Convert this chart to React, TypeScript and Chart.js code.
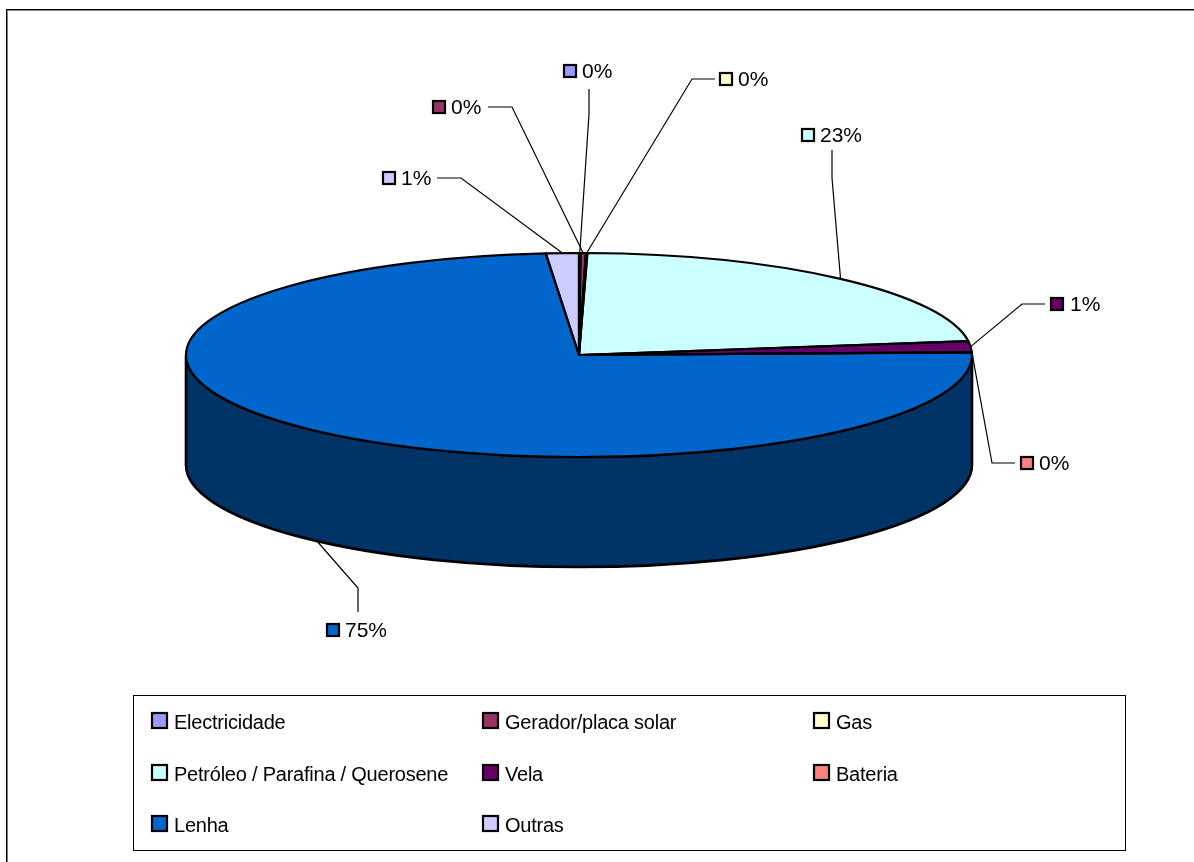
import React, { useEffect, useRef } from "react";
import { Chart, registerables } from "chart.js";

Chart.register(...registerables);

const categories = ["Electricidade", "Gerador/placa solar", "Gas", "Petróleo / Parafina / Querosene", "Vela", "Bateria", "Lenha", "Outras"];
const values = [0.06, 0.22, 0.06, 22.5, 1.7, 0.05, 74.06, 1.35];
const percentLabels = ["0%", "0%", "0%", "23%", "1%", "0%", "75%", "1%"];
const colors = ["#9999FF", "#993366", "#FFFFCC", "#CCFFFF", "#660066", "#FF8080", "#0066CC", "#CCCCFF"];

const W = 1194, H = 862;
const CX = 579, CY = 355, RX = 393, RY = 102, DEPTH = 110;
const LABEL_FONT = '21px "Liberation Sans", Arial, sans-serif';
const LEGEND_FONT = '20px "Liberation Sans", Arial, sans-serif';

// Where each callout sits: square position, text position, and elbow of the leader
const callouts = [
  { sq: [563, 64], text: 582, start: [589, 89], elbow: [589, 114], side: false },
  { sq: [432, 100], text: 451, start: [488, 107], elbow: [512, 107], side: false },
  { sq: [719, 72], text: 738, start: [715, 79], elbow: [692, 79], side: false },
  { sq: [801, 128], text: 820, start: [832, 150], elbow: [832, 178], side: false },
  { sq: [1050, 297], text: 1070, start: [1045, 304], elbow: [1022, 304], side: false },
  { sq: [1020, 456], text: 1039, start: [1015, 463], elbow: [992, 463], side: false },
  { sq: [326, 623], text: 345, start: [358, 612], elbow: [358, 588], side: true },
  { sq: [382, 171], text: 401, start: [437, 178], elbow: [461, 178], side: false },
];

const legendBox = { x: 133.5, y: 695.5, w: 992, h: 155 };
const legendCols = [151, 482, 813];
const legendRows = [722, 774, 825];

function half(hex: string) {
  const n = parseInt(hex.slice(1), 16);
  const c = (s: number) => ((n >> s) & 255) >> 1;
  return `rgb(${c(16)},${c(8)},${c(0)})`;
}

function ellipseTransform(ctx: CanvasRenderingContext2D, a: any) {
  ctx.translate(CX, CY);
  ctx.scale(RX / a.outerRadius, RY / a.outerRadius);
  ctx.translate(-a.x, -a.y);
}

const piePlugin = {
  id: "flatPie",
  beforeDatasetsDraw(chart: any) {
    const ctx: CanvasRenderingContext2D = chart.ctx;
    // outer frame
    ctx.save();
    ctx.fillStyle = "#000";
    ctx.fillRect(6, 9, W - 6, 1);
    ctx.fillRect(6, 9, 1.5, H - 9);
    ctx.fillStyle = "#888";
    ctx.fillRect(7.5, 10, W - 7.5, 1);
    // extruded wall of the slices facing the viewer
    const arcs = chart.getDatasetMeta(0).data;
    arcs.forEach((a: any, i: number) => {
      const s = Math.max(a.startAngle, 0);
      const e = Math.min(a.endAngle, Math.PI);
      if (e <= s) return;
      ctx.beginPath();
      ctx.ellipse(CX, CY, RX, RY, 0, s, e);
      ctx.ellipse(CX, CY + DEPTH, RX, RY, 0, e, s, true);
      ctx.closePath();
      ctx.fillStyle = half(colors[i]);
      ctx.fill();
      ctx.lineWidth = 2.6;
      ctx.strokeStyle = "#000";
      ctx.stroke();
    });
    ctx.restore();
    ctx.save();
    ellipseTransform(ctx, arcs[0]);
  },
  afterDatasetsDraw(chart: any) {
    const ctx: CanvasRenderingContext2D = chart.ctx;
    ctx.restore();
    const arcs = chart.getDatasetMeta(0).data;
    // slice outlines, stroked outside the squash so the pen stays even
    arcs.forEach((a: any) => {
      ctx.save();
      ctx.save();
      ellipseTransform(ctx, a);
      ctx.beginPath();
      ctx.moveTo(a.x, a.y);
      ctx.arc(a.x, a.y, a.outerRadius, a.startAngle, a.endAngle);
      ctx.closePath();
      ctx.restore();
      ctx.lineWidth = 2.2;
      ctx.lineJoin = "round";
      ctx.strokeStyle = "#000";
      ctx.stroke();
      ctx.restore();
    });
    // leaders and labels
    ctx.save();
    ctx.font = LABEL_FONT;
    ctx.textBaseline = "middle";
    arcs.forEach((a: any, i: number) => {
      const c = callouts[i];
      const m = (a.startAngle + a.endAngle) / 2;
      const ax = CX + RX * Math.cos(m);
      const ay = CY + RY * Math.sin(m) + (c.side ? DEPTH : 0);
      ctx.beginPath();
      ctx.moveTo(c.start[0], c.start[1]);
      ctx.lineTo(c.elbow[0], c.elbow[1]);
      ctx.lineTo(ax, ay);
      ctx.lineWidth = 1.2;
      ctx.strokeStyle = "#000";
      ctx.stroke();
      ctx.fillStyle = colors[i];
      ctx.fillRect(c.sq[0] + 1, c.sq[1] + 1, 12, 12);
      ctx.lineWidth = 2.2;
      ctx.strokeRect(c.sq[0] + 1, c.sq[1] + 1, 12, 12);
      ctx.fillStyle = "#000";
      ctx.fillText(percentLabels[i], c.text, c.sq[1] + 8);
    });
    // legend
    ctx.lineWidth = 1;
    ctx.strokeStyle = "#000";
    ctx.strokeRect(legendBox.x, legendBox.y, legendBox.w, legendBox.h);
    ctx.font = LEGEND_FONT;
    (ctx as any).letterSpacing = "-0.23px";
    categories.forEach((name, i) => {
      const x = legendCols[i % 3];
      const y = legendRows[Math.floor(i / 3)];
      ctx.fillStyle = colors[i];
      ctx.fillRect(x + 1, y - 9, 15, 15);
      ctx.lineWidth = 2.2;
      ctx.strokeRect(x + 1, y - 9, 15, 15);
      ctx.fillStyle = "#000";
      ctx.fillText(name, x + 23, y + 1);
    });
    ctx.restore();
  },
};

export default function App() {
  const ref = useRef<HTMLCanvasElement>(null);
  useEffect(() => {
    const chart = new Chart(ref.current!, {
      type: "pie",
      data: {
        labels: categories,
        datasets: [{ data: values, backgroundColor: colors, borderWidth: 0, clip: false } as any],
      },
      options: {
        animation: false,
        responsive: false,
        devicePixelRatio: 1,
        layout: { padding: 0 },
        plugins: { legend: { display: false }, tooltip: { enabled: false } },
      },
      plugins: [piePlugin],
    });
    return () => chart.destroy();
  }, []);
  return (
    <div style={{ position: "fixed", left: 0, top: 0, width: W, height: H, background: "#fff" }}>
      <canvas ref={ref} width={W} height={H} style={{ display: "block" }} />
    </div>
  );
}
